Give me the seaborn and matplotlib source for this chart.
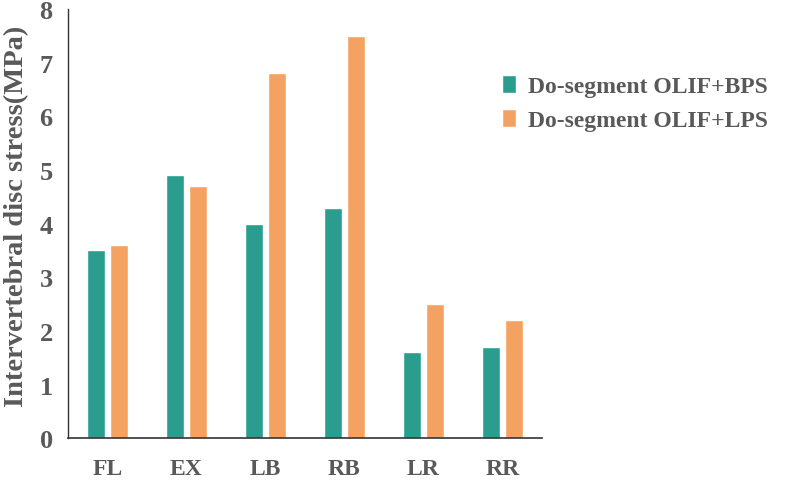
import pandas as pd
import numpy as np
import matplotlib.pyplot as plt
import seaborn as sns

positions = ['FL', 'EX', 'LB', 'RB', 'LR', 'RR']
bps = [3.5, 4.9, 4.0, 4.3, 1.6, 1.7]
lps = [3.6, 4.7, 6.8, 7.5, 2.5, 2.2]
series = ['Do-segment OLIF+BPS', 'Do-segment OLIF+LPS']

df = pd.DataFrame({
    'pos': positions * 2,
    'stress': bps + lps,
    'group': [series[0]] * len(bps) + [series[1]] * len(lps),
})

sns.set_style('white')
plt.rcParams['font.family'] = ['Liberation Serif', 'DejaVu Serif']
plt.rcParams['font.weight'] = 'bold'
grey = '#595959'

fig = plt.figure(figsize=(7.86, 4.81), dpi=100)
ax = fig.add_axes([0.0865, 0.087, 0.603, 0.892])

sns.barplot(data=df, x='pos', y='stress', hue='group',
            palette=['#2A9D8F', '#F4A261'], width=0.58, gap=0.22,
            saturation=1, ax=ax)

ax.set_ylim(0, 8)
ax.set_yticks(range(0, 9))
ax.set_xlim(-0.5, 5.5)
ax.set_xlabel('')
ax.set_ylabel('Intervertebral disc stress(MPa)', fontsize=20.5, fontweight='bold', color=grey)
ax.yaxis.set_label_coords(-0.083, 0.52)
ax.tick_params(axis='y', labelsize=19, colors=grey, length=0, pad=11)
ax.tick_params(axis='x', labelsize=17, colors=grey, length=0, pad=14)
for t in ax.get_xticklabels() + ax.get_yticklabels():
    t.set_fontweight('bold')
for s in ['top', 'right']:
    ax.spines[s].set_visible(False)
ax.spines['left'].set_color('#333333')
ax.spines['bottom'].set_color('#333333')
ax.spines['left'].set_linewidth(1.0)
ax.spines['bottom'].set_linewidth(1.2)

leg = ax.legend(loc='upper left', bbox_to_anchor=(0.87, 0.897), frameon=False,
                handlelength=0.6, handleheight=0.8, handletextpad=0.5,
                labelspacing=0.5, prop={'weight': 'bold', 'size': 17})
for t in leg.get_texts():
    t.set_color(grey)

fig.savefig('out.png', dpi=100)
